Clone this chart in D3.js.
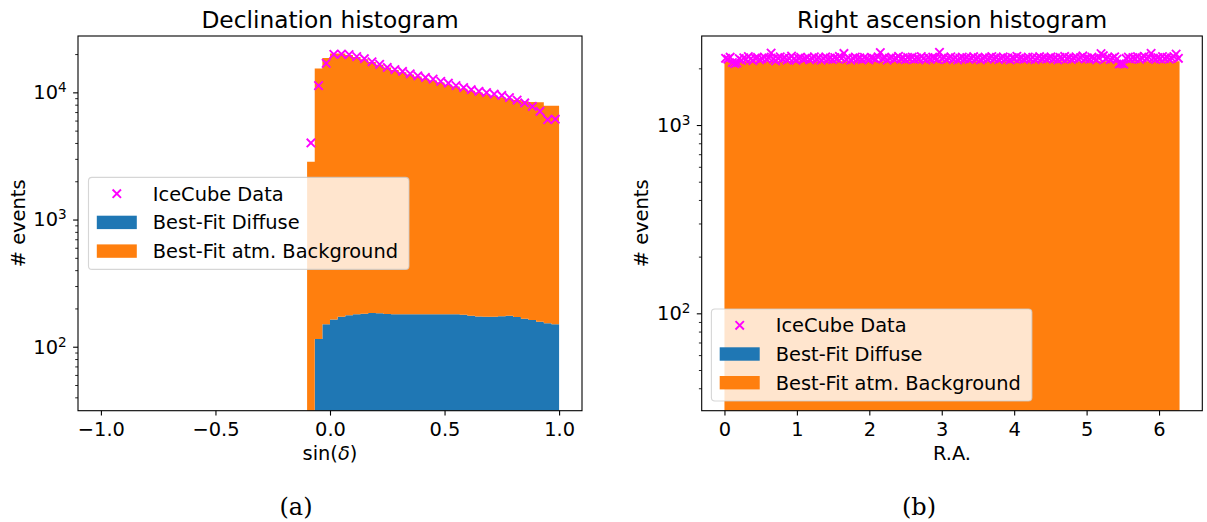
<!DOCTYPE html>
<html>
<head>
<meta charset="utf-8">
<script src="https://cdn.jsdelivr.net/npm/d3@7"></script>
<style>
  body { margin: 0; background: #fff; }
  text { font-family: "DejaVu Sans", sans-serif; fill: #000; }
</style>
</head>
<body>
<svg id="fig" width="1207" height="522"></svg>
<script>
// ---- Declination histogram: 60 bins in sin(dec) over [-1, 1]; bins 27..59 (-0.1 .. 1.0) are filled
const decBinCount = 60;
const decFirstBin = 27;
const decData = [4000, 11300, 16900, 19900, 20000, 19800, 19100, 18400, 17400, 16600, 15700,
  15100, 14600, 14000, 13500, 13100, 12700, 12200, 11800, 11300, 10900, 10500, 10200,
  9950, 9700, 9450, 9100, 8700, 8250, 7750, 7100, 6100, 6150];
const decDiffuse = [0, 115, 150, 164, 172, 177, 180, 182, 184, 183, 181,
  180, 180, 180, 180, 180, 180, 180, 180, 180, 178, 175, 173,
  172, 172, 174, 175, 171, 166, 162, 157, 153, 150];
const decBackground = [2850, 15290, 18450, 20040, 20030, 19520, 18820, 18020, 17120, 16320, 15520,
  14820, 14220, 13620, 13120, 12620, 12220, 11770, 11320, 10920, 10520, 10130, 9780,
  9480, 9230, 8980, 8730, 8530, 8330, 8240, 8190, 7700, 7700];
const decXTicks = [-1.0, -0.5, 0.0, 0.5, 1.0];
const decYLim = [31.4, 27740];

// ---- Right ascension histogram: 200 bins over [0, 2pi]
const raBinCount = 200;
const raData = [
  2262, 2238, 2291, 2147, 2118, 2135, 2254, 2203, 2276, 2231, 2309, 2244, 2198, 2267, 2285, 2221, 2253, 2296, 2240, 2272,
  2410, 2236, 2189, 2263, 2301, 2248, 2279, 2214, 2258, 2322, 2243, 2207, 2269, 2290, 2233, 2251, 2287, 2219, 2262, 2304,
  2237, 2275, 2212, 2256, 2298, 2241, 2268, 2226, 2283, 2250, 2314, 2265, 2398, 2232, 2277, 2208, 2259, 2295, 2244, 2271,
  2226, 2288, 2253, 2217, 2281, 2262, 2239, 2300, 2425, 2249, 2276, 2213, 2264, 2291, 2235, 2257, 2318, 2246, 2270, 2222,
  2284, 2252, 2297, 2229, 2266, 2243, 2310, 2258, 2218, 2279, 2247, 2293, 2264, 2231, 2432, 2255, 2286, 2224, 2269, 2301,
  2240, 2273, 2215, 2261, 2294, 2250, 2283, 2229, 2266, 2307, 2245, 2278, 2220, 2259, 2292, 2238, 2274, 2311, 2249, 2284,
  2228, 2263, 2299, 2242, 2270, 2216, 2281, 2254, 2318, 2247, 2275, 2233, 2262, 2296, 2240, 2289, 2224, 2268, 2305, 2251,
  2279, 2236, 2264, 2298, 2243, 2272, 2219, 2286, 2255, 2312, 2248, 2277, 2230, 2263, 2301, 2246, 2283, 2327, 2252, 2270,
  2238, 2291, 2260, 2219, 2276, 2395, 2334, 2246, 2289, 2227, 2266, 2303, 2241, 2112, 2128, 2104, 2258, 2295, 2237, 2281,
  2249, 2306, 2233, 2272, 2318, 2256, 2291, 2402, 2264, 2230, 2279, 2245, 2311, 2253, 2287, 2236, 2270, 2309, 2380, 2262];
const raDiffuse = [
  28, 28, 28, 28, 28, 28, 28, 28, 28, 28, 28, 28, 28, 28, 28, 28, 28, 28, 28, 28,
  28, 28, 28, 28, 28, 28, 28, 28, 28, 28, 28, 28, 28, 28, 28, 28, 28, 28, 28, 28,
  28, 28, 28, 28, 28, 28, 28, 28, 28, 28, 28, 28, 28, 28, 28, 28, 28, 28, 28, 28,
  28, 28, 28, 28, 28, 28, 28, 28, 28, 28, 28, 28, 28, 28, 28, 28, 28, 28, 28, 28,
  28, 28, 28, 28, 28, 28, 28, 28, 28, 28, 28, 28, 28, 28, 28, 28, 28, 28, 28, 28,
  28, 28, 28, 28, 28, 28, 28, 28, 28, 28, 28, 28, 28, 28, 28, 28, 28, 28, 28, 28,
  28, 28, 28, 28, 28, 28, 28, 28, 28, 28, 28, 28, 28, 28, 28, 28, 28, 28, 28, 28,
  28, 28, 28, 28, 28, 28, 28, 28, 28, 28, 28, 28, 28, 28, 28, 28, 28, 28, 28, 28,
  28, 28, 28, 28, 28, 28, 28, 28, 28, 28, 28, 28, 28, 28, 28, 28, 28, 28, 28, 28,
  28, 28, 28, 28, 28, 28, 28, 28, 28, 28, 28, 28, 28, 28, 28, 28, 28, 28, 28, 28];
const raBackground = [
  2150, 2150, 2150, 2150, 2150, 2150, 2150, 2150, 2150, 2150, 2150, 2150, 2150, 2150, 2150, 2150, 2150, 2150, 2150, 2150,
  2150, 2150, 2150, 2150, 2150, 2150, 2150, 2150, 2150, 2150, 2150, 2150, 2150, 2150, 2150, 2150, 2150, 2150, 2150, 2150,
  2150, 2150, 2150, 2150, 2150, 2150, 2150, 2150, 2150, 2150, 2150, 2150, 2150, 2150, 2150, 2150, 2150, 2150, 2150, 2150,
  2150, 2150, 2150, 2150, 2150, 2150, 2150, 2150, 2150, 2150, 2150, 2150, 2150, 2150, 2150, 2150, 2150, 2150, 2150, 2150,
  2150, 2150, 2150, 2150, 2150, 2150, 2150, 2150, 2150, 2150, 2150, 2150, 2150, 2150, 2150, 2150, 2150, 2150, 2150, 2150,
  2150, 2150, 2150, 2150, 2150, 2150, 2150, 2150, 2150, 2150, 2150, 2150, 2150, 2150, 2150, 2150, 2150, 2150, 2150, 2150,
  2150, 2150, 2150, 2150, 2150, 2150, 2150, 2150, 2150, 2150, 2150, 2150, 2150, 2150, 2150, 2150, 2150, 2150, 2150, 2150,
  2150, 2150, 2150, 2150, 2150, 2150, 2150, 2150, 2150, 2150, 2150, 2150, 2150, 2150, 2150, 2150, 2150, 2150, 2150, 2150,
  2150, 2150, 2150, 2150, 2150, 2150, 2150, 2150, 2150, 2150, 2150, 2150, 2150, 2150, 2150, 2150, 2150, 2150, 2150, 2150,
  2150, 2150, 2150, 2150, 2150, 2150, 2150, 2150, 2150, 2150, 2150, 2150, 2150, 2150, 2150, 2150, 2150, 2150, 2150, 2150];
const raXTicks = [0, 1, 2, 3, 4, 5, 6];
const raYLim = [30.4, 2970];

const yMajorTicks = [10, 100, 1000, 10000];
const legendLabels = ["IceCube Data", "Best-Fit Diffuse", "Best-Fit atm. Background"];
const colors = { data: "#ff00ff", diffuse: "#1f77b4", background: "#ff7f0e" };

// bin edges (like numpy.linspace)
const decAllEdges = d3.range(decBinCount + 1).map(i => -1 + 2 * i / decBinCount);
const decEdges = decAllEdges.slice(decFirstBin);
const raAllEdges = d3.range(raBinCount + 1).map(i => 2 * Math.PI * i / raBinCount);

const svg = d3.select("#fig");
svg.append("rect").attr("width", 1207).attr("height", 522).attr("fill", "#fff");

const FS = 19.4;      // 14 pt
const TITLE_FS = 23.3;
const MAJ = 4.9, MIN = 2.8;
const MARKER_W = 1.9;

function withMargin(ext) {
  const pad = 0.05 * (ext[1] - ext[0]);
  return [ext[0] - pad, ext[1] + pad];
}

// closed step polygon between per-bin lower and upper values
function stepBand(x, y, edges, lo, hi, floor) {
  const p = d3.path();
  const n = lo.length;
  const yy = v => y(Math.max(v, floor));
  p.moveTo(x(edges[0]), yy(lo[0]));
  for (let i = 0; i < n; i++) {
    p.lineTo(x(edges[i]), yy(hi[i]));
    p.lineTo(x(edges[i + 1]), yy(hi[i]));
  }
  for (let i = n - 1; i >= 0; i--) {
    p.lineTo(x(edges[i + 1]), yy(lo[i]));
    p.lineTo(x(edges[i]), yy(lo[i]));
  }
  p.closePath();
  return p.toString();
}

const crossPath = "M-4.2,-4.2L4.2,4.2M-4.2,4.2L4.2,-4.2";

function drawLegend(g, bx, by) {
  const w = 320.5, h = 92;
  g.append("rect").attr("x", bx).attr("y", by).attr("width", w).attr("height", h)
    .attr("rx", 3.5).attr("fill", "#fff").attr("fill-opacity", 0.8)
    .attr("stroke", "#cccccc").attr("stroke-opacity", 0.8).attr("stroke-width", 1.1);
  const rows = [16.3, 45, 73.7];
  const hx = bx + 8.3, hw = 40, tx = bx + 64.3;
  // data marker
  g.append("path").attr("d", crossPath)
    .attr("transform", `translate(${hx + hw / 2},${by + rows[0]})`)
    .attr("stroke", colors.data).attr("stroke-width", MARKER_W).attr("fill", "none");
  g.append("rect").attr("x", hx).attr("y", by + rows[1] - 6.7).attr("width", hw).attr("height", 13.4)
    .attr("fill", colors.diffuse);
  g.append("rect").attr("x", hx).attr("y", by + rows[2] - 6.7).attr("width", hw).attr("height", 13.4)
    .attr("fill", colors.background);
  legendLabels.forEach((lab, i) => {
    g.append("text").attr("x", tx).attr("y", by + rows[i]).attr("dy", "0.36em")
      .attr("font-size", FS).text(lab);
  });
}

function panel(cfg) {
  const g = svg.append("g");
  const x = d3.scaleLinear().domain(withMargin(d3.extent(cfg.allEdges))).range([cfg.left, cfg.right]);
  const y = d3.scaleLog().domain(cfg.yLim).range([cfg.bottom, cfg.top]);
  const floor = cfg.yLim[0];

  const clipId = "clip-" + cfg.id;
  svg.append("clipPath").attr("id", clipId).append("rect")
    .attr("x", cfg.left).attr("y", cfg.top)
    .attr("width", cfg.right - cfg.left).attr("height", cfg.bottom - cfg.top);
  const plot = g.append("g").attr("clip-path", `url(#${clipId})`);

  const total = cfg.diffuse.map((d, i) => d + cfg.background[i]);
  const zeros = cfg.diffuse.map(() => floor);

  // stacked histogram: diffuse at the bottom, atmospheric background on top
  plot.append("path").attr("d", stepBand(x, y, cfg.edges, zeros, cfg.diffuse, floor))
    .attr("fill", colors.diffuse);
  plot.append("path").attr("d", stepBand(x, y, cfg.edges, cfg.diffuse, total, floor))
    .attr("fill", colors.background);

  // observed counts
  plot.selectAll("path.pt").data(cfg.data).join("path").attr("class", "pt")
    .attr("d", crossPath)
    .attr("transform", (d, i) => `translate(${x((cfg.edges[i] + cfg.edges[i + 1]) / 2)},${y(d)})`)
    .attr("stroke", colors.data).attr("stroke-width", MARKER_W).attr("fill", "none");

  // frame
  g.append("rect").attr("x", cfg.left).attr("y", cfg.top)
    .attr("width", cfg.right - cfg.left).attr("height", cfg.bottom - cfg.top)
    .attr("fill", "none").attr("stroke", "#000").attr("stroke-width", 1.1);

  // x axis
  const xa = g.append("g").attr("transform", `translate(0,${cfg.bottom})`)
    .call(d3.axisBottom(x).tickValues(cfg.xTicks).tickSize(MAJ).tickPadding(6.6).tickFormat(cfg.xFormat));
  xa.select(".domain").remove();
  xa.selectAll("line").attr("stroke", "#000").attr("stroke-width", 1.1);
  xa.selectAll("text").attr("font-size", FS).attr("font-family", "DejaVu Sans").attr("fill", "#000");

  // y axis: decades and minor ticks
  const [lo, hi] = cfg.yLim;
  const majors = yMajorTicks.filter(v => v >= lo && v <= hi);
  const minors = [];
  yMajorTicks.forEach(dec => {
    for (let k = 2; k <= 9; k++) { const v = dec * k; if (v >= lo && v <= hi) minors.push(v); }
  });
  const ya = g.append("g").attr("transform", `translate(${cfg.left},0)`)
    .call(d3.axisLeft(y).tickValues(majors).tickSize(MAJ).tickFormat(""));
  ya.select(".domain").remove();
  ya.selectAll("line").attr("stroke", "#000").attr("stroke-width", 1.1);
  const yb = g.append("g").attr("transform", `translate(${cfg.left},0)`)
    .call(d3.axisLeft(y).tickValues(minors).tickSize(MIN).tickFormat(""));
  yb.select(".domain").remove();
  yb.selectAll("line").attr("stroke", "#000").attr("stroke-width", 0.85);

  majors.forEach(v => {
    const t = g.append("text").attr("x", cfg.left - 11.3).attr("y", y(v) + 6.8)
      .attr("text-anchor", "end").attr("font-size", FS);
    t.append("tspan").text("10");
    t.append("tspan").attr("dy", -7).attr("font-size", 13.6).text(String(Math.round(Math.log10(v))));
  });

  // titles and labels
  const cx = (cfg.left + cfg.right) / 2;
  g.append("text").attr("x", cx).attr("y", 28).attr("text-anchor", "middle")
    .attr("font-size", TITLE_FS).text(cfg.title);
  cfg.xLabel(g.append("text").attr("x", cx).attr("y", 460).attr("text-anchor", "middle").attr("font-size", FS));
  g.append("text").attr("transform", `translate(${cfg.yLabelX},${(cfg.top + cfg.bottom) / 2}) rotate(-90)`)
    .attr("text-anchor", "middle").attr("font-size", FS).text("# events");

  drawLegend(g, cfg.legendX, cfg.legendY);

  g.append("text").attr("x", cfg.captionX).attr("y", 515).attr("text-anchor", "middle")
    .style("font-family", "'DejaVu Serif', serif").style("font-weight", "normal")
    .attr("font-size", 24).text(cfg.caption);
}

const minusFmt = d => d3.format(".1f")(d).replace("-", "\u2212");

panel({
  id: "dec", left: 78, right: 582, top: 36, bottom: 410.7,
  allEdges: decAllEdges, edges: decEdges,
  data: decData, diffuse: decDiffuse, background: decBackground,
  yLim: decYLim, xTicks: decXTicks, xFormat: minusFmt,
  title: "Declination histogram",
  xLabel: t => { t.append("tspan").text("sin("); t.append("tspan").attr("font-style", "italic").text("\u03b4"); t.append("tspan").text(")"); },
  yLabelX: 25,
  legendX: 88.5, legendY: 177.4,
  caption: "(a)", captionX: 296
});

panel({
  id: "ra", left: 701.7, right: 1202.3, top: 36, bottom: 410.7,
  allEdges: raAllEdges, edges: raAllEdges,
  data: raData, diffuse: raDiffuse, background: raBackground,
  yLim: raYLim, xTicks: raXTicks, xFormat: d3.format("d"),
  title: "Right ascension histogram",
  xLabel: t => { t.text("R.A."); },
  yLabelX: 648,
  legendX: 711.4, legendY: 309,
  caption: "(b)", captionX: 919
});
</script>
</body>
</html>
